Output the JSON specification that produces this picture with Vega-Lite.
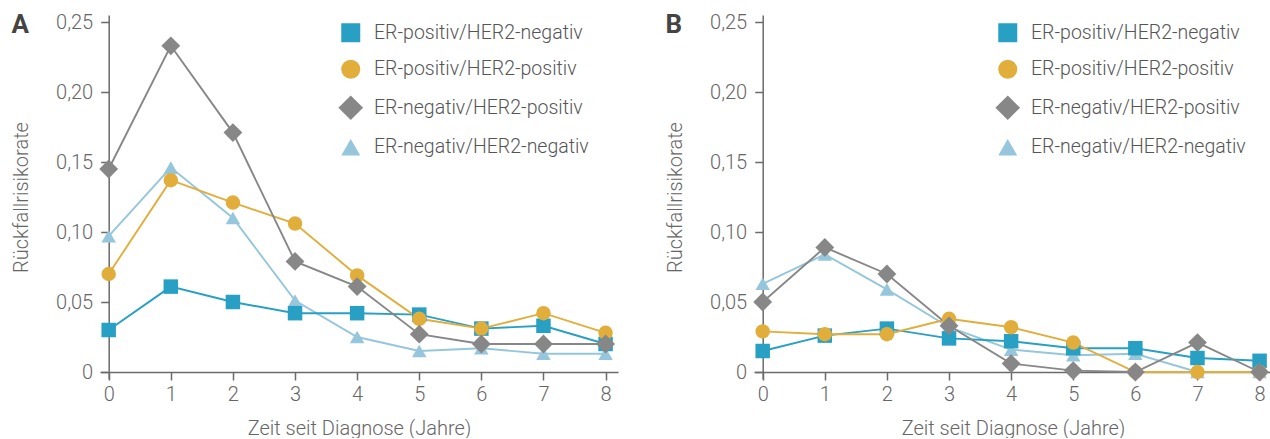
{
  "$schema": "https://vega.github.io/schema/vega-lite/v6.json",
  "padding": {"left": 11, "top": 12, "right": 0, "bottom": 0},
  "background": "white",
  "config": {
    "view": {"stroke": null},
    "font": "Roboto",
    "axis": {
      "grid": false,
      "domainColor": "#6b6b6b",
      "tickColor": "#6b6b6b",
      "domainWidth": 1.5,
      "tickWidth": 1.5,
      "tickSize": 8,
      "labelFont": "Roboto",
      "labelFontWeight": 300,
      "labelFontSize": 20,
      "labelColor": "#666666",
      "titleFont": "Roboto",
      "titleFontWeight": 300,
      "titleFontSize": 20,
      "titleColor": "#666666"
    },
    "legend": {
      "labelFont": "Roboto",
      "labelFontWeight": 300,
      "labelFontSize": 19.5,
      "labelColor": "#555555",
      "labelLimit": 0,
      "symbolOpacity": 1,
      "symbolStrokeWidth": 0,
      "symbolSize": 361,
      "labelOffset": 13.5,
      "rowPadding": 15.5
    }
  },
  "datasets": {
    "d": [
      {"panel": "A", "gruppe": "ER-negativ/HER2-negativ", "jahr": 0, "rate": 0.097},
      {"panel": "A", "gruppe": "ER-negativ/HER2-negativ", "jahr": 1, "rate": 0.146},
      {"panel": "A", "gruppe": "ER-negativ/HER2-negativ", "jahr": 2, "rate": 0.110},
      {"panel": "A", "gruppe": "ER-negativ/HER2-negativ", "jahr": 3, "rate": 0.051},
      {"panel": "A", "gruppe": "ER-negativ/HER2-negativ", "jahr": 4, "rate": 0.025},
      {"panel": "A", "gruppe": "ER-negativ/HER2-negativ", "jahr": 5, "rate": 0.015},
      {"panel": "A", "gruppe": "ER-negativ/HER2-negativ", "jahr": 6, "rate": 0.017},
      {"panel": "A", "gruppe": "ER-negativ/HER2-negativ", "jahr": 7, "rate": 0.013},
      {"panel": "A", "gruppe": "ER-negativ/HER2-negativ", "jahr": 8, "rate": 0.013},
      {"panel": "A", "gruppe": "ER-positiv/HER2-negativ", "jahr": 0, "rate": 0.030},
      {"panel": "A", "gruppe": "ER-positiv/HER2-negativ", "jahr": 1, "rate": 0.061},
      {"panel": "A", "gruppe": "ER-positiv/HER2-negativ", "jahr": 2, "rate": 0.050},
      {"panel": "A", "gruppe": "ER-positiv/HER2-negativ", "jahr": 3, "rate": 0.042},
      {"panel": "A", "gruppe": "ER-positiv/HER2-negativ", "jahr": 4, "rate": 0.042},
      {"panel": "A", "gruppe": "ER-positiv/HER2-negativ", "jahr": 5, "rate": 0.041},
      {"panel": "A", "gruppe": "ER-positiv/HER2-negativ", "jahr": 6, "rate": 0.031},
      {"panel": "A", "gruppe": "ER-positiv/HER2-negativ", "jahr": 7, "rate": 0.033},
      {"panel": "A", "gruppe": "ER-positiv/HER2-negativ", "jahr": 8, "rate": 0.020},
      {"panel": "A", "gruppe": "ER-positiv/HER2-positiv", "jahr": 0, "rate": 0.070},
      {"panel": "A", "gruppe": "ER-positiv/HER2-positiv", "jahr": 1, "rate": 0.137},
      {"panel": "A", "gruppe": "ER-positiv/HER2-positiv", "jahr": 2, "rate": 0.121},
      {"panel": "A", "gruppe": "ER-positiv/HER2-positiv", "jahr": 3, "rate": 0.106},
      {"panel": "A", "gruppe": "ER-positiv/HER2-positiv", "jahr": 4, "rate": 0.069},
      {"panel": "A", "gruppe": "ER-positiv/HER2-positiv", "jahr": 5, "rate": 0.038},
      {"panel": "A", "gruppe": "ER-positiv/HER2-positiv", "jahr": 6, "rate": 0.031},
      {"panel": "A", "gruppe": "ER-positiv/HER2-positiv", "jahr": 7, "rate": 0.042},
      {"panel": "A", "gruppe": "ER-positiv/HER2-positiv", "jahr": 8, "rate": 0.028},
      {"panel": "A", "gruppe": "ER-negativ/HER2-positiv", "jahr": 0, "rate": 0.145},
      {"panel": "A", "gruppe": "ER-negativ/HER2-positiv", "jahr": 1, "rate": 0.233},
      {"panel": "A", "gruppe": "ER-negativ/HER2-positiv", "jahr": 2, "rate": 0.171},
      {"panel": "A", "gruppe": "ER-negativ/HER2-positiv", "jahr": 3, "rate": 0.079},
      {"panel": "A", "gruppe": "ER-negativ/HER2-positiv", "jahr": 4, "rate": 0.061},
      {"panel": "A", "gruppe": "ER-negativ/HER2-positiv", "jahr": 5, "rate": 0.027},
      {"panel": "A", "gruppe": "ER-negativ/HER2-positiv", "jahr": 6, "rate": 0.020},
      {"panel": "A", "gruppe": "ER-negativ/HER2-positiv", "jahr": 7, "rate": 0.020},
      {"panel": "A", "gruppe": "ER-negativ/HER2-positiv", "jahr": 8, "rate": 0.020},
      {"panel": "B", "gruppe": "ER-negativ/HER2-negativ", "jahr": 0, "rate": 0.063},
      {"panel": "B", "gruppe": "ER-negativ/HER2-negativ", "jahr": 1, "rate": 0.084},
      {"panel": "B", "gruppe": "ER-negativ/HER2-negativ", "jahr": 2, "rate": 0.059},
      {"panel": "B", "gruppe": "ER-negativ/HER2-negativ", "jahr": 3, "rate": 0.032},
      {"panel": "B", "gruppe": "ER-negativ/HER2-negativ", "jahr": 4, "rate": 0.016},
      {"panel": "B", "gruppe": "ER-negativ/HER2-negativ", "jahr": 5, "rate": 0.012},
      {"panel": "B", "gruppe": "ER-negativ/HER2-negativ", "jahr": 6, "rate": 0.013},
      {"panel": "B", "gruppe": "ER-negativ/HER2-negativ", "jahr": 7, "rate": 0.0},
      {"panel": "B", "gruppe": "ER-negativ/HER2-negativ", "jahr": 8, "rate": 0.0},
      {"panel": "B", "gruppe": "ER-positiv/HER2-negativ", "jahr": 0, "rate": 0.015},
      {"panel": "B", "gruppe": "ER-positiv/HER2-negativ", "jahr": 1, "rate": 0.026},
      {"panel": "B", "gruppe": "ER-positiv/HER2-negativ", "jahr": 2, "rate": 0.031},
      {"panel": "B", "gruppe": "ER-positiv/HER2-negativ", "jahr": 3, "rate": 0.024},
      {"panel": "B", "gruppe": "ER-positiv/HER2-negativ", "jahr": 4, "rate": 0.022},
      {"panel": "B", "gruppe": "ER-positiv/HER2-negativ", "jahr": 5, "rate": 0.017},
      {"panel": "B", "gruppe": "ER-positiv/HER2-negativ", "jahr": 6, "rate": 0.017},
      {"panel": "B", "gruppe": "ER-positiv/HER2-negativ", "jahr": 7, "rate": 0.010},
      {"panel": "B", "gruppe": "ER-positiv/HER2-negativ", "jahr": 8, "rate": 0.008},
      {"panel": "B", "gruppe": "ER-positiv/HER2-positiv", "jahr": 0, "rate": 0.029},
      {"panel": "B", "gruppe": "ER-positiv/HER2-positiv", "jahr": 1, "rate": 0.027},
      {"panel": "B", "gruppe": "ER-positiv/HER2-positiv", "jahr": 2, "rate": 0.027},
      {"panel": "B", "gruppe": "ER-positiv/HER2-positiv", "jahr": 3, "rate": 0.038},
      {"panel": "B", "gruppe": "ER-positiv/HER2-positiv", "jahr": 4, "rate": 0.032},
      {"panel": "B", "gruppe": "ER-positiv/HER2-positiv", "jahr": 5, "rate": 0.021},
      {"panel": "B", "gruppe": "ER-positiv/HER2-positiv", "jahr": 6, "rate": 0.0},
      {"panel": "B", "gruppe": "ER-positiv/HER2-positiv", "jahr": 7, "rate": 0.0},
      {"panel": "B", "gruppe": "ER-positiv/HER2-positiv", "jahr": 8, "rate": 0.0},
      {"panel": "B", "gruppe": "ER-negativ/HER2-positiv", "jahr": 0, "rate": 0.050},
      {"panel": "B", "gruppe": "ER-negativ/HER2-positiv", "jahr": 1, "rate": 0.089},
      {"panel": "B", "gruppe": "ER-negativ/HER2-positiv", "jahr": 2, "rate": 0.070},
      {"panel": "B", "gruppe": "ER-negativ/HER2-positiv", "jahr": 3, "rate": 0.033},
      {"panel": "B", "gruppe": "ER-negativ/HER2-positiv", "jahr": 4, "rate": 0.006},
      {"panel": "B", "gruppe": "ER-negativ/HER2-positiv", "jahr": 5, "rate": 0.001},
      {"panel": "B", "gruppe": "ER-negativ/HER2-positiv", "jahr": 6, "rate": 0.0},
      {"panel": "B", "gruppe": "ER-negativ/HER2-positiv", "jahr": 7, "rate": 0.021},
      {"panel": "B", "gruppe": "ER-negativ/HER2-positiv", "jahr": 8, "rate": 0.0}
    ]
  },
  "spacing": 47,
  "resolve": {"legend": {"color": "independent", "shape": "independent"}, "scale": {"color": "independent", "shape": "independent"}},
  "hconcat": [
    {
      "title": {"text": "A", "anchor": "start", "frame": "bounds", "orient": "top", "baseline": "top", "offset": -26, "font": "Roboto", "fontSize": 26, "fontWeight": "bold", "color": "#444444"},
      "width": 518,
      "height": 364,
      "data": {"name": "d"},
      "transform": [{"filter": "datum.panel == 'A'"}],
      "encoding": {
        "x": {"field": "jahr", "type": "quantitative", "title": "Zeit seit Diagnose (Jahre)",
          "scale": {"domain": [-0.14, 8.2], "nice": false, "zero": false},
          "axis": {"values": [0, 1, 2, 3, 4, 5, 6, 7, 8], "format": "d", "offset": -7, "labelPadding": 4, "titlePadding": 14}},
        "y": {"field": "rate", "type": "quantitative", "title": "Rückfallrisikorate",
          "scale": {"domain": [-0.005, 0.255], "nice": false, "zero": false},
          "axis": {"values": [0, 0.05, 0.1, 0.15, 0.2, 0.25], "offset": -8.7, "labelPadding": 8, "titlePadding": 24,
            "labelExpr": "datum.value == 0 ? '0' : replace(format(datum.value, '.2f'), '.', ',')"}},
        "color": {"field": "gruppe", "type": "nominal",
          "scale": {"domain": ["ER-positiv/HER2-negativ", "ER-positiv/HER2-positiv", "ER-negativ/HER2-positiv", "ER-negativ/HER2-negativ"], "range": ["#27a0c4", "#e2ae3b", "#878787", "#95c6dc"]},
          "legend": {"title": null, "orient": "none", "legendX": 241, "legendY": 8}}
      },
      "layer": [
        {"mark": {"type": "line", "strokeWidth": 1.9}},
        {"mark": {"type": "point", "filled": true, "opacity": 1, "size": 210},
          "encoding": {
            "shape": {"field": "gruppe", "type": "nominal",
              "scale": {"domain": ["ER-positiv/HER2-negativ", "ER-positiv/HER2-positiv", "ER-negativ/HER2-positiv", "ER-negativ/HER2-negativ"], "range": ["square", "circle", "M-1.3,0L0,-1.3L1.3,0L0,1.3Z", "triangle-up"]},
              "legend": {"title": null, "orient": "none", "legendX": 241, "legendY": 8}}
          }}
      ]
    },
    {
      "title": {"text": "B", "anchor": "start", "frame": "bounds", "orient": "top", "baseline": "top", "offset": -26, "font": "Roboto", "fontSize": 26, "fontWeight": "bold", "color": "#444444"},
      "width": 518,
      "height": 364,
      "data": {"name": "d"},
      "transform": [{"filter": "datum.panel == 'B'"}],
      "encoding": {
        "x": {"field": "jahr", "type": "quantitative", "title": "Zeit seit Diagnose (Jahre)",
          "scale": {"domain": [-0.14, 8.2], "nice": false, "zero": false},
          "axis": {"values": [0, 1, 2, 3, 4, 5, 6, 7, 8], "format": "d", "offset": -7, "labelPadding": 4, "titlePadding": 14}},
        "y": {"field": "rate", "type": "quantitative", "title": "Rückfallrisikorate",
          "scale": {"domain": [-0.005, 0.255], "nice": false, "zero": false},
          "axis": {"values": [0, 0.05, 0.1, 0.15, 0.2, 0.25], "offset": -8.7, "labelPadding": 8, "titlePadding": 24,
            "labelExpr": "datum.value == 0 ? '0' : replace(format(datum.value, '.2f'), '.', ',')"}},
        "color": {"field": "gruppe", "type": "nominal",
          "scale": {"domain": ["ER-positiv/HER2-negativ", "ER-positiv/HER2-positiv", "ER-negativ/HER2-positiv", "ER-negativ/HER2-negativ"], "range": ["#27a0c4", "#e2ae3b", "#878787", "#95c6dc"]},
          "legend": {"title": null, "orient": "none", "legendX": 244, "legendY": 8}}
      },
      "layer": [
        {"mark": {"type": "line", "strokeWidth": 1.9}},
        {"mark": {"type": "point", "filled": true, "opacity": 1, "size": 210},
          "encoding": {
            "shape": {"field": "gruppe", "type": "nominal",
              "scale": {"domain": ["ER-positiv/HER2-negativ", "ER-positiv/HER2-positiv", "ER-negativ/HER2-positiv", "ER-negativ/HER2-negativ"], "range": ["square", "circle", "M-1.3,0L0,-1.3L1.3,0L0,1.3Z", "triangle-up"]},
              "legend": {"title": null, "orient": "none", "legendX": 244, "legendY": 8}}
          }}
      ]
    }
  ]
}
